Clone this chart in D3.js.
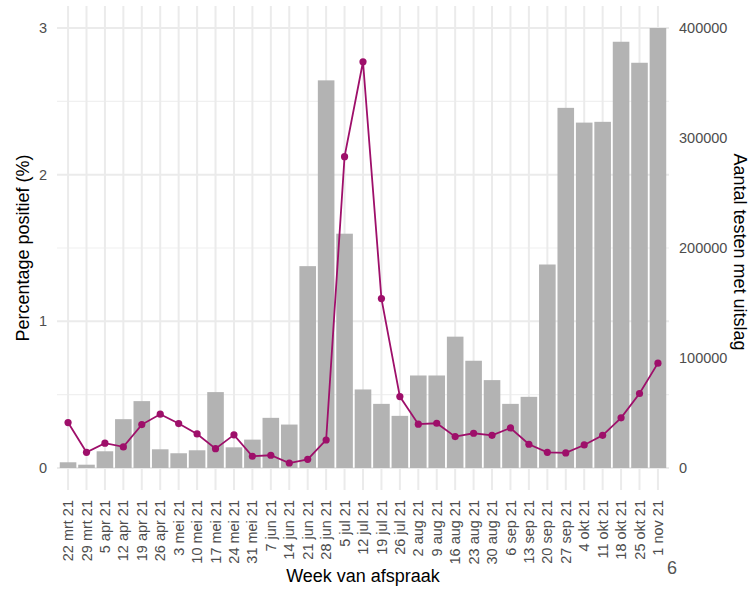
<!DOCTYPE html>
<html lang="nl">
<head>
<meta charset="UTF-8">
<title>Percentage positief en aantal testen</title>
<script src="https://d3js.org/d3.v7.min.js"></script>
<style>
    body { margin: 0; background: #fff; }
    svg { font-family: 'Liberation Sans', Arial, sans-serif; }
    .tick-label { fill: #4d4d4d; font-size: 14.5px; }
    .axis-title { fill: #000; font-size: 18px; }
</style>
</head>
<body>
<svg id="chart" width="750" height="590"></svg>
<script>
    // Weeks (x categories)
    const weeks = ["22 mrt 21", "29 mrt 21", "5 apr 21", "12 apr 21", "19 apr 21", "26 apr 21",
        "3 mei 21", "10 mei 21", "17 mei 21", "24 mei 21", "31 mei 21", "7 jun 21", "14 jun 21",
        "21 jun 21", "28 jun 21", "5 jul 21", "12 jul 21", "19 jul 21", "26 jul 21", "2 aug 21",
        "9 aug 21", "16 aug 21", "23 aug 21", "30 aug 21", "6 sep 21", "13 sep 21", "20 sep 21",
        "27 sep 21", "4 okt 21", "11 okt 21", "18 okt 21", "25 okt 21", "1 nov 21"];

    // Number of tests with result (bars, right axis)
    const tests = [5200, 3000, 15200, 44400, 60800, 17000, 13400, 16100, 69000, 18800, 25800,
        45600, 39500, 183500, 352400, 213000, 71400, 58300, 47400, 84100, 84100, 119400, 97500,
        79900, 58300, 64700, 185000, 327400, 314000, 314700, 387500, 368400, 400000];

    // Percentage positive (line, left axis)
    const positive = [0.31, 0.107, 0.169, 0.144, 0.296, 0.367, 0.303, 0.232, 0.132, 0.226, 0.08,
        0.087, 0.034, 0.059, 0.191, 2.123, 2.77, 1.155, 0.487, 0.299, 0.305, 0.214, 0.237, 0.223,
        0.273, 0.162, 0.107, 0.103, 0.157, 0.223, 0.342, 0.508, 0.715];

    const leftTicks = [0, 1, 2, 3];
    const leftMinor = [0.5, 1.5, 2.5];
    const rightTicks = [0, 100000, 200000, 300000, 400000];

    const panel = { left: 57, right: 669, top: 6, bottom: 490 };
    const svg = d3.select("#chart");

    // Discrete x with ggplot-like 0.6 expansion on each side
    const x = d3.scalePoint()
        .domain(weeks)
        .range([panel.left, panel.right])
        .padding(0.6);
    const step = x.step();
    const barWidth = step * 0.9;

    const yLeft = d3.scaleLinear().domain([-0.15, 3.15]).range([panel.bottom, panel.top]);
    const yRight = d3.scaleLinear().domain([-20000, 420000]).range([panel.bottom, panel.top]);

    // Grid
    const grid = svg.append("g");
    grid.selectAll(".minor").data(leftMinor).enter().append("line")
        .attr("x1", panel.left).attr("x2", panel.right)
        .attr("y1", d => yLeft(d)).attr("y2", d => yLeft(d))
        .attr("stroke", "#f0f0f0").attr("stroke-width", 1.1);
    grid.selectAll(".major").data(leftTicks).enter().append("line")
        .attr("x1", panel.left).attr("x2", panel.right)
        .attr("y1", d => yLeft(d)).attr("y2", d => yLeft(d))
        .attr("stroke", "#ebebeb").attr("stroke-width", 2);
    grid.selectAll(".vert").data(weeks).enter().append("line")
        .attr("x1", d => x(d)).attr("x2", d => x(d))
        .attr("y1", panel.top).attr("y2", panel.bottom)
        .attr("stroke", "#ebebeb").attr("stroke-width", 2);

    // Bars
    svg.append("g").selectAll("rect")
        .data(weeks)
        .enter().append("rect")
        .attr("x", d => x(d) - barWidth / 2)
        .attr("width", barWidth)
        .attr("y", (d, i) => yRight(tests[i]))
        .attr("height", (d, i) => yRight(0) - yRight(tests[i]))
        .attr("fill", "#b3b3b3");

    // Line + points
    const line = d3.line()
        .x((d, i) => x(weeks[i]))
        .y(d => yLeft(d));
    svg.append("path")
        .datum(positive)
        .attr("d", line)
        .attr("fill", "none")
        .attr("stroke", "#9e0f6a")
        .attr("stroke-width", 1.8);
    svg.append("g").selectAll("circle")
        .data(positive)
        .enter().append("circle")
        .attr("cx", (d, i) => x(weeks[i]))
        .attr("cy", d => yLeft(d))
        .attr("r", 3.6)
        .attr("fill", "#9e0f6a");

    // Left axis labels
    svg.append("g").selectAll("text")
        .data(leftTicks)
        .enter().append("text")
        .attr("class", "tick-label")
        .attr("x", panel.left - 10)
        .attr("y", d => yLeft(d))
        .attr("dy", "0.35em")
        .attr("text-anchor", "end")
        .text(d => d);

    // Right axis labels
    svg.append("g").selectAll("text")
        .data(rightTicks)
        .enter().append("text")
        .attr("class", "tick-label")
        .attr("x", panel.right + 10)
        .attr("y", d => yRight(d))
        .attr("dy", "0.35em")
        .attr("text-anchor", "start")
        .text(d => d);

    // X labels, rotated
    svg.append("g").selectAll("text")
        .data(weeks)
        .enter().append("text")
        .attr("class", "tick-label")
        .attr("transform", d => `translate(${x(d)},${panel.bottom + 10})rotate(-90)`)
        .attr("dy", "0.35em")
        .attr("text-anchor", "end")
        .text(d => d);

    // Axis titles
    svg.append("text")
        .attr("class", "axis-title")
        .attr("transform", `translate(29,${(panel.top + panel.bottom) / 2})rotate(-90)`)
        .attr("text-anchor", "middle")
        .text("Percentage positief (%)");

    svg.append("text")
        .attr("class", "axis-title")
        .attr("transform", `translate(734,252)rotate(90)`)
        .attr("text-anchor", "middle")
        .text("Aantal testen met uitslag");

    svg.append("text")
        .attr("class", "axis-title")
        .attr("x", 363)
        .attr("y", 582)
        .attr("text-anchor", "middle")
        .text("Week van afspraak");

    // stray page number in the scan
    svg.append("text")
        .attr("x", 672)
        .attr("y", 574)
        .attr("text-anchor", "middle")
        .attr("font-size", "18px")
        .attr("fill", "#555")
        .text("6");
</script>
</body>
</html>
